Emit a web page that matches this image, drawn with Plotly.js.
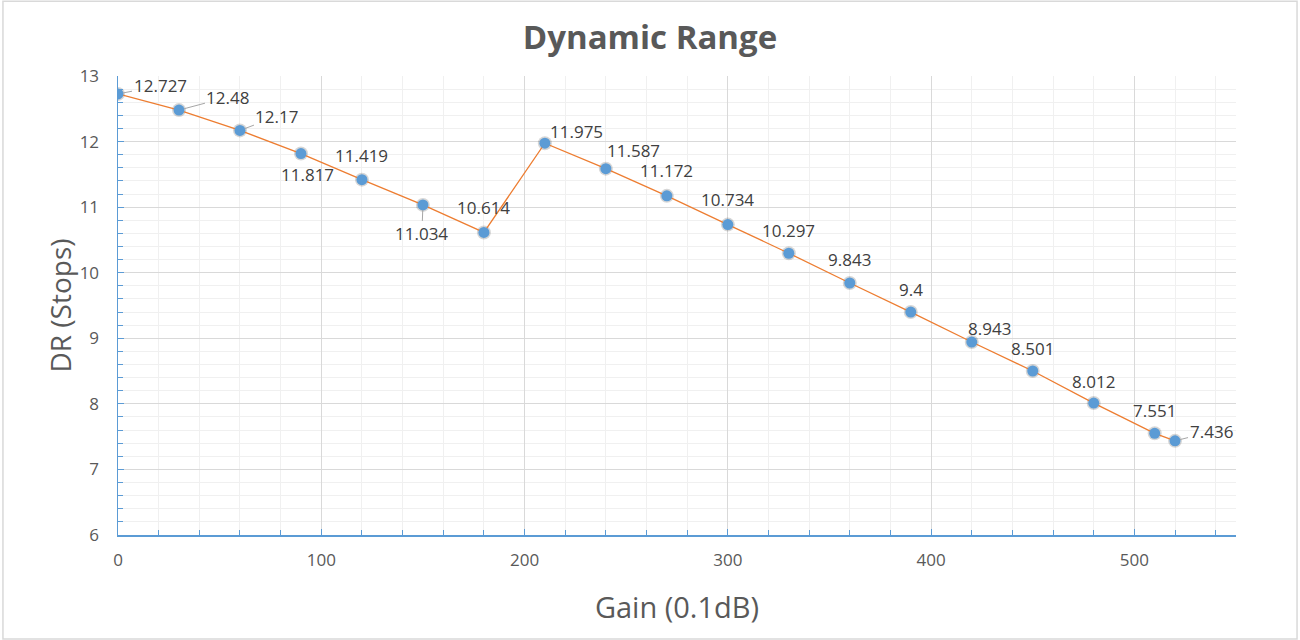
<!DOCTYPE html>
<html>
<head>
<meta charset="utf-8">
<script src="https://cdn.plot.ly/plotly-3.0.1.min.js"></script>
<style>html,body{margin:0;padding:0;background:#fff;}#chart{width:1300px;height:640px;}</style>
</head>
<body>
<div id="chart"></div>
<script>
// Data
const gain = [0, 30, 60, 90, 120, 150, 180, 210, 240, 270, 300, 330, 360, 390, 420, 450, 480, 510, 520];
const dr = [12.727, 12.48, 12.17, 11.817, 11.419, 11.034, 10.614, 11.975, 11.587, 11.172, 10.734, 10.297, 9.843, 9.4, 8.943, 8.501, 8.012, 7.551, 7.436];
const xTickVals = [0, 100, 200, 300, 400, 500];
const yTickVals = [6, 7, 8, 9, 10, 11, 12, 13];

// Label placement (pixel offsets from each point, and whether a leader line is drawn)
const labelDx = [42, 49, 37, 7, 0, -1, 0, 32, 28, 0, 0, 0, 0, 0, 18, 0, 0, 0, 36];
const labelDy = [-8, -13, -14, 21, -24, 29, -25, -12, -18, -25, -25, -23, -24, -23, -14, -23, -22, -23, -9];
const leader = [true, true, true, false, false, true, false, false, false, false, false, false, false, false, false, false, false, false, true];

const textColor = '#404040';
const axisColor = '#5b9bd5';
const fontFam = 'Open Sans, Liberation Sans, sans-serif';

const annotations = gain.map((g, i) => ({
  x: g, y: dr[i], xref: 'x', yref: 'y',
  text: String(dr[i]),
  showarrow: true,
  ax: labelDx[i], ay: labelDy[i],
  arrowhead: 0, arrowwidth: 1, standoff: 5, startstandoff: 0,
  arrowcolor: leader[i] ? '#a6a6a6' : 'rgba(0,0,0,0)',
  font: {family: fontFam, size: 17, color: textColor}
}));

const traces = [
  {
    x: gain, y: dr, type: 'scatter', mode: 'markers',
    marker: {size: 14, color: 'rgba(0,0,0,0.16)'},
    hoverinfo: 'skip', showlegend: false
  },
  {
    x: gain, y: dr, type: 'scatter', mode: 'lines+markers',
    line: {color: '#ed7d31', width: 1.3},
    marker: {size: 11, color: '#5b9bd5', line: {width: 0}},
    showlegend: false
  }
];

const layout = {
  width: 1300, height: 640,
  margin: {l: 118, r: 64, t: 76, b: 105},
  paper_bgcolor: '#fff', plot_bgcolor: '#fff',
  font: {family: fontFam, color: '#595959'},
  title: {
    text: '<b>Dynamic Range</b>',
    font: {size: 33, color: '#595959', family: fontFam},
    x: 0.5, xanchor: 'center', y: 0.942, yanchor: 'middle'
  },
  xaxis: {
    range: [0, 550], tickvals: xTickVals, ticktext: xTickVals.map(String),
    showgrid: true, gridcolor: '#d9d9d9', gridwidth: 1,
    showline: true, linecolor: axisColor, linewidth: 1.5,
    ticks: 'inside', ticklen: 6, tickcolor: axisColor, tickwidth: 1,
    minor: {dtick: 20, showgrid: true, gridcolor: '#f0f0f0', gridwidth: 1, ticks: 'inside', ticklen: 5, tickcolor: axisColor},
    tickfont: {size: 17, color: '#595959'},
    ticklabelstandoff: 9,
    zeroline: false,
    title: {text: 'Gain (0.1dB)', font: {size: 29, color: '#595959'}, standoff: 28}
  },
  yaxis: {
    range: [6, 13], tickvals: yTickVals, ticktext: yTickVals.map(String),
    showgrid: true, gridcolor: '#d9d9d9', gridwidth: 1,
    showline: true, linecolor: axisColor, linewidth: 1.5,
    ticks: 'inside', ticklen: 6, tickcolor: axisColor, tickwidth: 1,
    minor: {dtick: 0.2, showgrid: true, gridcolor: '#f0f0f0', gridwidth: 1, ticks: 'inside', ticklen: 5, tickcolor: axisColor},
    tickfont: {size: 17, color: '#595959'},
    ticklabelstandoff: 14,
    zeroline: false,
    title: {text: 'DR (Stops)', font: {size: 28, color: '#595959'}, standoff: 0}
  },
  annotations: annotations,
  shapes: [{
    type: 'rect', xref: 'paper', yref: 'paper', layer: 'below',
    x0: -0.1029, x1: 1.0546, y0: -0.2266, y1: 1.163,
    line: {color: '#d9d9d9', width: 1.5}
  }]
};

Plotly.newPlot('chart', traces, layout, {displayModeBar: false, staticPlot: true});
</script>
</body>
</html>
